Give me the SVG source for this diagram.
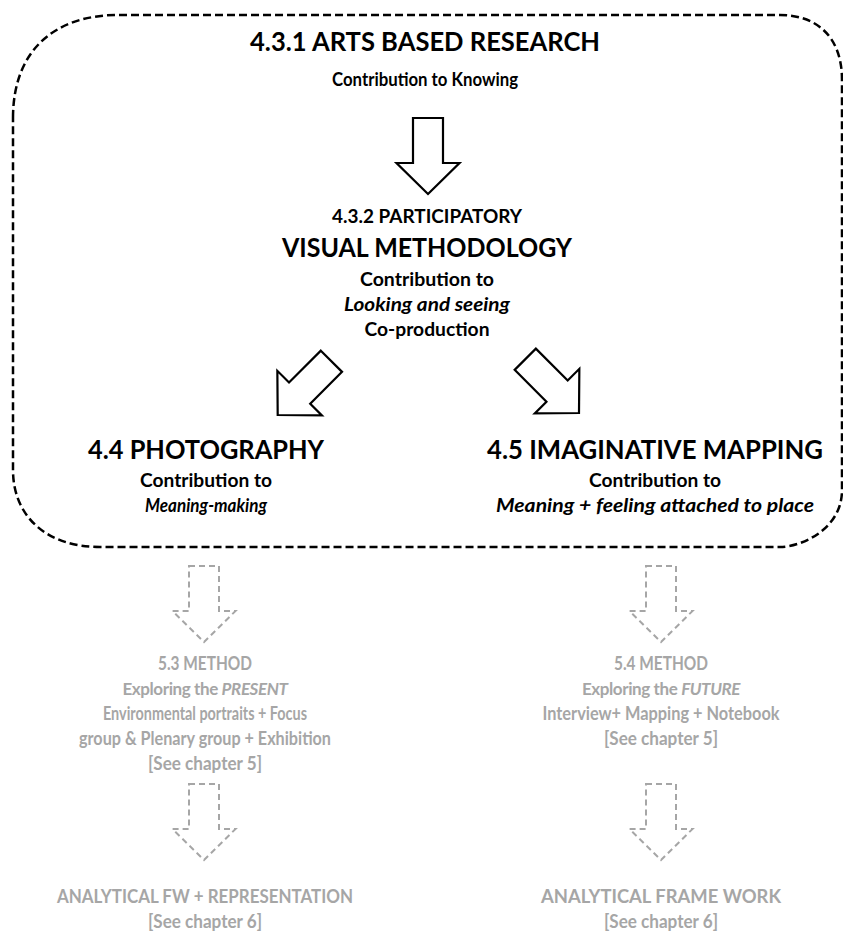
<svg xmlns="http://www.w3.org/2000/svg" width="843" height="939" viewBox="0 0 843 939">
  <style>
    text { font-family: Lato, "Open Sans", "Liberation Sans", sans-serif; font-weight: 700; text-anchor: middle; }
    .h { font-size: 27px; }
    .b { font-size: 18.5px; }
    .s { font-size: 17px; letter-spacing: -0.4px; }
    .i { font-style: italic; }
    .dark { fill: #000; }
    .grey { fill: #a6a6a6; }
    .frame { fill: none; stroke: #000; stroke-width: 2.5; stroke-dasharray: 8 4; }
    .arrow { fill: #fff; stroke: #000; stroke-width: 2.2; stroke-linejoin: miter; }
    .ghost { fill: none; stroke: #a6a6a6; stroke-width: 2; stroke-dasharray: 6 4; }
  </style>
  <defs>
    <!-- block arrow pointing down, tip at the origin -->
    <path id="block-arrow" d="M-15,-76 H15 V-31 H31.5 L0,0 L-31.5,-31 H-15 Z"/>
  </defs>
  <rect width="843" height="939" fill="#fff"/>

  <!-- dashed boundary around the visual-methods cluster -->
  <path class="frame" d="M13,118 C13,50 55,15 118,15 H780 C815,15 842,35 842,80 V490 C842,530 800,547 780,547 H100 C45,547 13,515 13,470 Z"/>

  <g id="connectors">
    <use href="#block-arrow" class="arrow" transform="translate(428,194)"/>
    <use href="#block-arrow" class="arrow" transform="translate(277.7,415) rotate(45)"/>
    <use href="#block-arrow" class="arrow" transform="translate(579,413) rotate(-45)"/>
    <use href="#block-arrow" class="ghost" transform="translate(204,642)"/>
    <use href="#block-arrow" class="ghost" transform="translate(661,642)"/>
    <use href="#block-arrow" class="ghost" transform="translate(204,860)"/>
    <use href="#block-arrow" class="ghost" transform="translate(661,860)"/>
  </g>

  <g id="arts-based-research" class="dark">
    <text class="h" x="425" y="51" textLength="350" lengthAdjust="spacingAndGlyphs">4.3.1 ARTS BASED RESEARCH</text>
    <text class="b" x="425" y="86" textLength="186" lengthAdjust="spacingAndGlyphs">Contribution to Knowing</text>
  </g>

  <g id="visual-methodology" class="dark">
    <text class="b" x="427" y="223" textLength="190" lengthAdjust="spacingAndGlyphs">4.3.2 PARTICIPATORY</text>
    <text class="h" x="427" y="257" textLength="290" lengthAdjust="spacingAndGlyphs">VISUAL METHODOLOGY</text>
    <text class="b" x="427" y="286" textLength="134" lengthAdjust="spacingAndGlyphs">Contribution to</text>
    <text class="b i" x="427" y="311" textLength="166" lengthAdjust="spacingAndGlyphs">Looking and seeing</text>
    <text class="b" x="427" y="336" textLength="125" lengthAdjust="spacingAndGlyphs">Co-production</text>
  </g>

  <g id="photography" class="dark">
    <text class="h" x="206" y="459" textLength="236" lengthAdjust="spacingAndGlyphs">4.4 PHOTOGRAPHY</text>
    <text class="b" x="206" y="487" textLength="132" lengthAdjust="spacingAndGlyphs">Contribution to</text>
    <text class="b i" x="206" y="512" textLength="122" lengthAdjust="spacingAndGlyphs">Meaning-making</text>
  </g>

  <g id="imaginative-mapping" class="dark">
    <text class="h" x="655" y="459" textLength="336" lengthAdjust="spacingAndGlyphs">4.5 IMAGINATIVE MAPPING</text>
    <text class="b" x="655" y="487" textLength="132" lengthAdjust="spacingAndGlyphs">Contribution to</text>
    <text class="b i" x="655" y="512" textLength="318" lengthAdjust="spacingAndGlyphs">Meaning + feeling attached to place</text>
  </g>

  <g id="method-present" class="grey">
    <text class="b" x="205" y="670" textLength="94" lengthAdjust="spacingAndGlyphs">5.3 METHOD</text>
    <text class="s" x="205" y="695">Exploring the <tspan class="i">PRESENT</tspan></text>
    <text class="b" x="205" y="720" textLength="204" lengthAdjust="spacingAndGlyphs">Environmental portraits + Focus</text>
    <text class="b" x="205" y="745" textLength="252" lengthAdjust="spacingAndGlyphs">group &amp; Plenary group + Exhibition</text>
    <text class="b" x="205" y="770" textLength="114" lengthAdjust="spacingAndGlyphs">[See chapter 5]</text>
  </g>

  <g id="method-future" class="grey">
    <text class="b" x="661" y="670" textLength="94" lengthAdjust="spacingAndGlyphs">5.4 METHOD</text>
    <text class="s" x="661" y="695">Exploring the <tspan class="i">FUTURE</tspan></text>
    <text class="b" x="661" y="720" textLength="237" lengthAdjust="spacingAndGlyphs">Interview+ Mapping + Notebook</text>
    <text class="b" x="661" y="745" textLength="114" lengthAdjust="spacingAndGlyphs">[See chapter 5]</text>
  </g>

  <g id="analytical-representation" class="grey">
    <text class="b" x="205" y="903" textLength="296" lengthAdjust="spacingAndGlyphs">ANALYTICAL FW + REPRESENTATION</text>
    <text class="b" x="205" y="928" textLength="114" lengthAdjust="spacingAndGlyphs">[See chapter 6]</text>
  </g>

  <g id="analytical-framework" class="grey">
    <text class="b" x="661" y="903" textLength="240" lengthAdjust="spacingAndGlyphs">ANALYTICAL FRAME WORK</text>
    <text class="b" x="661" y="928" textLength="114" lengthAdjust="spacingAndGlyphs">[See chapter 6]</text>
  </g>
</svg>
